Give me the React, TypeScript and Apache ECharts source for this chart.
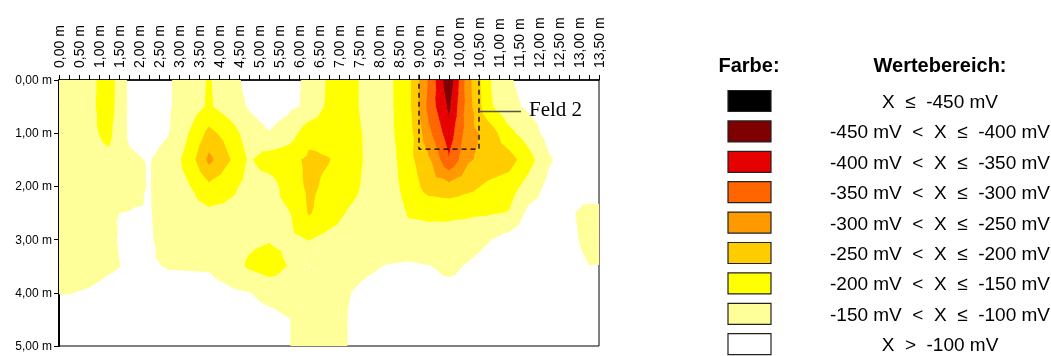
import React, { useEffect, useRef } from "react";
import * as echarts from "echarts";

// Measurement columns (m along the surface) and depths (m)
const xNodes = [0.25, 0.75, 1.25, 1.75, 2.25, 2.75, 3.25, 3.75, 4.25, 4.75, 5.25, 5.75, 6.25, 6.75, 7.25, 7.75, 8.25, 8.75, 9.25, 9.75, 10.25, 10.75, 11.25, 11.75, 12.25, 12.75, 13.25];
const depthNodes = [0, 0.5, 1.0, 1.5, 2.0, 2.5, 3.0, 3.5, 4.0, 4.5, 5.0];

// Potential values in mV, one row per depth
const row000 = [-125, -135, -177, -90, -75, -95, -125, -155, -120, -85, -70, -92, -105, -160, -165, -135, -140, -190, -310, -440, -265, -155, -105, -80, -70, -70, -70];
const row050 = [-125, -138, -175, -90, -80, -95, -125, -158, -125, -95, -75, -90, -108, -165, -165, -135, -140, -190, -320, -412, -270, -160, -115, -90, -75, -75, -75];
const row100 = [-125, -140, -162, -92, -80, -98, -152, -215, -180, -125, -102, -125, -185, -185, -170, -140, -140, -180, -290, -380, -270, -230, -165, -125, -80, -75, -75];
const row150 = [-125, -135, -140, -108, -97, -120, -172, -265, -205, -145, -175, -185, -210, -202, -175, -140, -130, -185, -245, -345, -255, -235, -222, -170, -105, -75, -75];
const row200 = [-125, -130, -130, -120, -97, -125, -148, -190, -165, -135, -128, -175, -210, -190, -170, -135, -130, -170, -225, -235, -215, -190, -175, -130, -85, -75, -60];
const row250 = [-125, -125, -102, -98, -96, -120, -130, -140, -135, -130, -135, -148, -205, -175, -145, -130, -125, -155, -158, -160, -158, -155, -148, -85, -80, -90, -120];
const row300 = [-125, -122, -105, -92, -95, -115, -125, -128, -130, -140, -147, -140, -152, -135, -130, -128, -125, -130, -135, -130, -120, -102, -80, -70, -70, -85, -115];
const row350 = [-125, -120, -106, -95, -96, -102, -103, -104, -125, -158, -175, -148, -98, -115, -112, -105, -97, -93, -98, -110, -95, -80, -70, -70, -70, -80, -99];
const row400 = [-101, -95, -85, -85, -85, -85, -85, -85, -90, -98, -115, -125, -118, -112, -101, -90, -85, -85, -85, -85, -85, -85, -85, -85, -85, -85, -85];
const row450 = [-80, -80, -80, -80, -80, -80, -80, -80, -80, -80, -85, -98, -120, -120, -98, -85, -80, -80, -80, -80, -80, -80, -80, -80, -80, -80, -80];
const row500 = [-80, -80, -80, -80, -80, -80, -80, -80, -80, -80, -85, -98, -120, -118, -98, -85, -80, -80, -80, -80, -80, -80, -80, -80, -80, -80, -80];
const rows = [row000, row050, row100, row150, row200, row250, row300, row350, row400, row450, row500];

// Colour classes
const thresholds = [-450, -400, -350, -300, -250, -200, -150, -100];
const bandColors = ["#000000", "#7F0000", "#E60000", "#FF6600", "#FF9900", "#FFCC00", "#FFFF00", "#FFFF99", "#FFFFFF"];
const bandLabels = [
  "X  \u2264  -450 mV",
  "-450 mV  <  X  \u2264  -400 mV",
  "-400 mV  <  X  \u2264  -350 mV",
  "-350 mV  <  X  \u2264  -300 mV",
  "-300 mV  <  X  \u2264  -250 mV",
  "-250 mV  <  X  \u2264  -200 mV",
  "-200 mV  <  X  \u2264  -150 mV",
  "-150 mV  <  X  \u2264  -100 mV",
  "X  >  -100 mV",
];

// Annotation "Feld 2"
const fieldBox = [[9.0, -0.1], [9.0, 1.3], [10.5, 1.3], [10.5, -0.1]];
const fieldLeader = [[10.5, 0.59], [11.55, 0.59]];
const fieldName = "Feld 2";

const X_MIN = 0;
const X_MAX = 13.5;
const Y_MAX = 5;

type P = [number, number, number];

function clip(poly: P[], c: number, keepAbove: boolean): P[] {
  const out: P[] = [];
  const n = poly.length;
  for (let i = 0; i < n; i++) {
    const a = poly[i];
    const b = poly[(i + 1) % n];
    const ina = keepAbove ? a[2] > c : a[2] <= c;
    const inb = keepAbove ? b[2] > c : b[2] <= c;
    if (ina) out.push(a);
    if (ina !== inb) {
      const t = (c - a[2]) / (b[2] - a[2]);
      out.push([a[0] + t * (b[0] - a[0]), a[1] + t * (b[1] - a[1]), c]);
    }
  }
  return out;
}

const fmt = (v: number) => v.toFixed(2).replace(".", ",") + " m";

export default function App() {
  const ref = useRef<HTMLDivElement>(null);
  useEffect(() => {
    if (!ref.current) return;
    const chart = echarts.init(ref.current, undefined, { renderer: "svg" });

    const xEdges = [X_MIN, ...xNodes, X_MAX];
    const colOf = (e: number) => Math.min(Math.max(e - 1, 0), xNodes.length - 1);
    const cells: number[][] = [];
    for (let k = 0; k < xEdges.length - 1; k++) {
      for (let j = 0; j < depthNodes.length - 1; j++) cells.push([k, j]);
    }

    const renderItem = (params: any, api: any) => {
      const k = api.value(0) as number;
      const j = api.value(1) as number;
      const x0 = xEdges[k], x1 = xEdges[k + 1];
      const y0 = depthNodes[j], y1 = depthNodes[j + 1];
      const ca = colOf(k), cb = colOf(k + 1);
      const p00: P = [x0, y0, rows[j][ca]];
      const p10: P = [x1, y0, rows[j][cb]];
      const p11: P = [x1, y1, rows[j + 1][cb]];
      const p01: P = [x0, y1, rows[j + 1][ca]];
      const pc: P = [(x0 + x1) / 2, (y0 + y1) / 2, (p00[2] + p10[2] + p11[2] + p01[2]) / 4];
      const tris: P[][] = [[p00, p10, pc], [p10, p11, pc], [p11, p01, pc], [p01, p00, pc]];
      const children: any[] = [];
      for (const tri of tris) {
        for (let b = 0; b < bandColors.length - 1; b++) {
          let poly = tri;
          if (b > 0) poly = clip(poly, thresholds[b - 1], true);
          if (poly.length < 3) continue;
          poly = clip(poly, thresholds[b], false);
          if (poly.length < 3) continue;
          const pts = poly.map((p) => api.coord([p[0], p[1]]));
          children.push({
            type: "polygon",
            shape: { points: pts },
            style: { fill: bandColors[b], stroke: bandColors[b], lineWidth: 0.7 },
          });
        }
      }
      return { type: "group", children };
    };

    const legendX = 728;
    const legendTop = 90.5;
    const legendStep = 30.4;
    const graphic: any[] = [
      {
        type: "text",
        x: 749,
        y: 65,
        style: { text: "Farbe:", fontSize: 20, fontWeight: "bold", fontFamily: "Liberation Sans", fill: "#000", align: "center", verticalAlign: "middle" },
      },
      {
        type: "text",
        x: 940,
        y: 65,
        style: { text: "Wertebereich:", fontSize: 20, fontWeight: "bold", fontFamily: "Liberation Sans", fill: "#000", align: "center", verticalAlign: "middle" },
      },
    ];
    bandColors.forEach((c, i) => {
      const top = legendTop + legendStep * i;
      graphic.push({
        type: "rect",
        shape: { x: legendX, y: top, width: 43, height: 21 },
        style: { fill: c, stroke: "#222", lineWidth: 1.2 },
      });
      graphic.push({
        type: "text",
        x: 940,
        y: top + 11,
        style: { text: bandLabels[i], fontSize: 19, fontFamily: "Liberation Sans", fill: "#000", align: "center", verticalAlign: "middle" },
      });
    });

    chart.setOption({
      animation: false,
      textStyle: { fontFamily: "Liberation Sans" },
      grid: { left: 59, top: 80, width: 540, height: 266, show: true, borderColor: "#000", borderWidth: 1, backgroundColor: "transparent" },
      xAxis: {
        type: "value",
        position: "top",
        min: X_MIN,
        max: X_MAX,
        interval: 0.5,
        axisLine: { show: true, lineStyle: { color: "#000", width: 1.5 } },
        axisTick: { show: true, length: 5, lineStyle: { color: "#000" } },
        minorTick: { show: true, splitNumber: 2, length: 5, lineStyle: { color: "#000" } },
        splitLine: { show: false },
        axisLabel: { rotate: 90, fontSize: 14, color: "#000", margin: 12, formatter: (v: number) => fmt(v) },
      },
      yAxis: {
        type: "value",
        inverse: true,
        min: 0,
        max: Y_MAX,
        interval: 1,
        axisLine: { show: true, lineStyle: { color: "#000", width: 2 } },
        axisTick: { show: true, length: 5, lineStyle: { color: "#000" } },
        splitLine: { show: false },
        axisLabel: { fontSize: 12, color: "#000", margin: 7, formatter: (v: number) => fmt(v) },
      },
      series: [
        {
          type: "custom",
          silent: true,
          clip: true,
          renderItem,
          data: cells,
          z: 1,
        },
        {
          type: "line",
          data: fieldBox,
          symbol: "none",
          clip: false,
          silent: true,
          z: 5,
          lineStyle: { color: "#000", width: 1.3, type: [5, 4] },
        },
        {
          type: "line",
          data: fieldLeader,
          symbol: "none",
          clip: false,
          silent: true,
          z: 5,
          lineStyle: { color: "#555", width: 1.5 },
          endLabel: {
            show: true,
            formatter: fieldName,
            fontFamily: "Liberation Serif",
            fontSize: 21,
            color: "#000",
            distance: 8,
            offset: [0, -2],
          },
        },
      ],
      graphic,
    });
    return () => chart.dispose();
  }, []);
  return <div ref={ref} style={{ position: "fixed", left: 0, top: 0, width: 1051, height: 356 }} />;
}
